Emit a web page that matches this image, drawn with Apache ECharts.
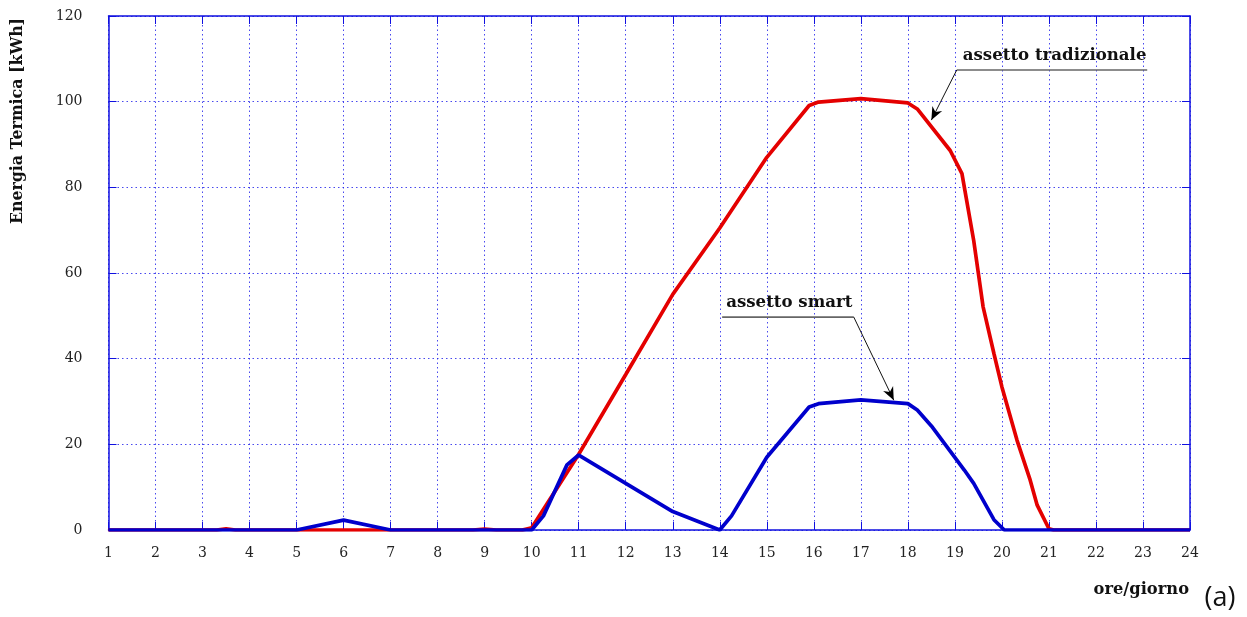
<!DOCTYPE html>
<html>
<head>
<meta charset="utf-8">
<script src="https://cdn.jsdelivr.net/npm/echarts@6/dist/echarts.min.js"></script>
<style>
  html, body { margin: 0; padding: 0; background: #fff; }
  #chart { width: 1247px; height: 617px; }
</style>
</head>
<body>
<div id="chart"></div>
<script>
// Hourly thermal energy profile [hour, kWh]
const tradizionale = [
  [1, 0], [3.3, 0], [3.5, 0.3], [3.7, 0], [8.75, 0], [9, 0.2], [9.25, 0], [9.8, 0],
  [10, 0.5], [11, 17.7], [12, 36.3], [13, 55], [14, 70.5], [15, 87], [15.9, 99.1],
  [16.1, 99.9], [17, 100.7], [18, 99.7], [18.2, 98.3], [18.9, 88.6], [19.15, 83.2],
  [19.4, 67.6], [19.6, 52.1], [19.83, 41.2], [20, 33.4], [20.32, 21], [20.6, 11.7],
  [20.75, 5.8], [21, 0.3], [21.1, 0], [24, 0]
];
const smart = [
  [1, 0], [5, 0], [6, 2.3], [7, 0], [10, 0], [10.25, 3.3], [10.75, 15.2], [11, 17.5],
  [13, 4.3], [14, 0], [14.25, 3.3], [15, 17], [15.9, 28.7], [16.1, 29.5], [17, 30.4],
  [18, 29.5], [18.2, 28], [18.5, 24.3], [19.2, 14], [19.4, 10.9], [19.83, 2.4],
  [20.05, 0], [24, 0]
];
const hourTicks = { min: 1, max: 24, step: 1 };
const energyTicks = { min: 0, max: 120, step: 20 };

// Callouts: label, underline start/end and arrow tip in data units
const callouts = [
  { text: 'assetto tradizionale', lineFrom: [19.04, 107.4], lineTo: [23.09, 107.4], arrowFrom: [19.04, 107.4], tip: [18.5, 95.7], dx: 6 },
  { text: 'assetto smart', lineFrom: [14.05, 49.7], lineTo: [16.85, 49.7], arrowFrom: [16.85, 49.7], tip: [17.7, 30.3], dx: 4 }
];

const SERIF = '"DejaVu Serif", "Liberation Serif", serif';
const GRID_BLUE = 'rgba(40,40,235,0.85)';
const AXIS_BLUE = '#1010e0';

const chart = echarts.init(document.getElementById('chart'));

function xAxisDef(pos, labels) {
  return {
    type: 'value', position: pos,
    min: hourTicks.min, max: hourTicks.max, interval: hourTicks.step,
    axisLine: { show: true, onZero: false, lineStyle: { color: AXIS_BLUE, width: 1.5 } },
    axisTick: { show: true, inside: true, length: 8, lineStyle: { color: AXIS_BLUE, width: 1 } },
    axisLabel: { show: labels, margin: 16, fontFamily: SERIF, fontSize: 14, color: '#222' },
    splitLine: { show: labels, lineStyle: { color: GRID_BLUE, width: 1, type: [1.5, 3] } }
  };
}
function yAxisDef(pos, labels) {
  return {
    type: 'value', position: pos,
    min: energyTicks.min, max: energyTicks.max, interval: energyTicks.step,
    axisLine: { show: true, onZero: false, lineStyle: { color: AXIS_BLUE, width: 1.5 } },
    axisTick: { show: true, inside: true, length: 8, lineStyle: { color: AXIS_BLUE, width: 1 } },
    axisLabel: { show: labels, margin: 26, fontFamily: SERIF, fontSize: 14, color: '#222' },
    splitLine: { show: labels, lineStyle: { color: GRID_BLUE, width: 1, type: [1.5, 3] } }
  };
}

chart.setOption({
  animation: false,
  backgroundColor: '#fff',
  grid: { left: 108.5, right: 57, top: 16, bottom: 87 },
  xAxis: [xAxisDef('bottom', true), xAxisDef('top', false)],
  yAxis: [yAxisDef('left', true), yAxisDef('right', false)],
  series: [
    { name: 'assetto tradizionale', type: 'line', data: tradizionale, showSymbol: false,
      lineStyle: { color: '#e40000', width: 3.7 }, z: 3 },
    { name: 'assetto smart', type: 'line', data: smart, showSymbol: false,
      lineStyle: { color: '#0000cc', width: 3.7 }, z: 4 }
  ]
});

// Build callout graphics from data coordinates
function px(p) { return chart.convertToPixel({ xAxisIndex: 0, yAxisIndex: 0 }, p); }

function arrowHead(from, to) {
  const ang = Math.atan2(to[1] - from[1], to[0] - from[0]);
  const L = 13, W = 5.5, back = 9;
  const c = Math.cos(ang), s = Math.sin(ang);
  const pt = (a, b) => [to[0] + a * c - b * s, to[1] + a * s + b * c];
  return [pt(0, 0), pt(-L, -W), pt(-back, 0), pt(-L, W)];
}

const graphics = [];
callouts.forEach(function (cb) {
  const a = px(cb.lineFrom), b = px(cb.lineTo), f = px(cb.arrowFrom), t = px(cb.tip);
  graphics.push({ type: 'line', shape: { x1: a[0], y1: a[1], x2: b[0], y2: b[1] },
    style: { stroke: '#666', lineWidth: 1.6 }, z: 10 });
  graphics.push({ type: 'line', shape: { x1: f[0], y1: f[1], x2: t[0], y2: t[1] },
    style: { stroke: '#111', lineWidth: 1 }, z: 10 });
  graphics.push({ type: 'polygon', shape: { points: arrowHead(f, t) },
    style: { fill: '#000' }, z: 11 });
  graphics.push({ type: 'text', x: a[0] + cb.dx, y: a[1] - 6,
    style: { text: cb.text, fontFamily: SERIF, fontWeight: 'bold', fontSize: 16.6,
      fill: '#111', textVerticalAlign: 'bottom', textAlign: 'left' }, z: 10 });
});

// Axis titles and panel tag
graphics.push({ type: 'text', x: 18, y: 121, rotation: Math.PI / 2,
  style: { text: 'Energia Termica [kWh]', fontFamily: SERIF, fontWeight: 'bold', fontSize: 15.8,
    fill: '#111', textAlign: 'center', textVerticalAlign: 'middle' } });
graphics.push({ type: 'text', x: 1189, y: 590,
  style: { text: 'ore/giorno', fontFamily: SERIF, fontWeight: 'bold', fontSize: 16.3,
    fill: '#111', textAlign: 'right', textVerticalAlign: 'middle' } });
graphics.push({ type: 'text', x: 1220, y: 598,
  style: { text: '(a)', fontFamily: '"Open Sans", sans-serif', fontSize: 27,
    fill: '#111', textAlign: 'center', textVerticalAlign: 'middle' } });

chart.setOption({ graphic: graphics });
</script>
</body>
</html>
